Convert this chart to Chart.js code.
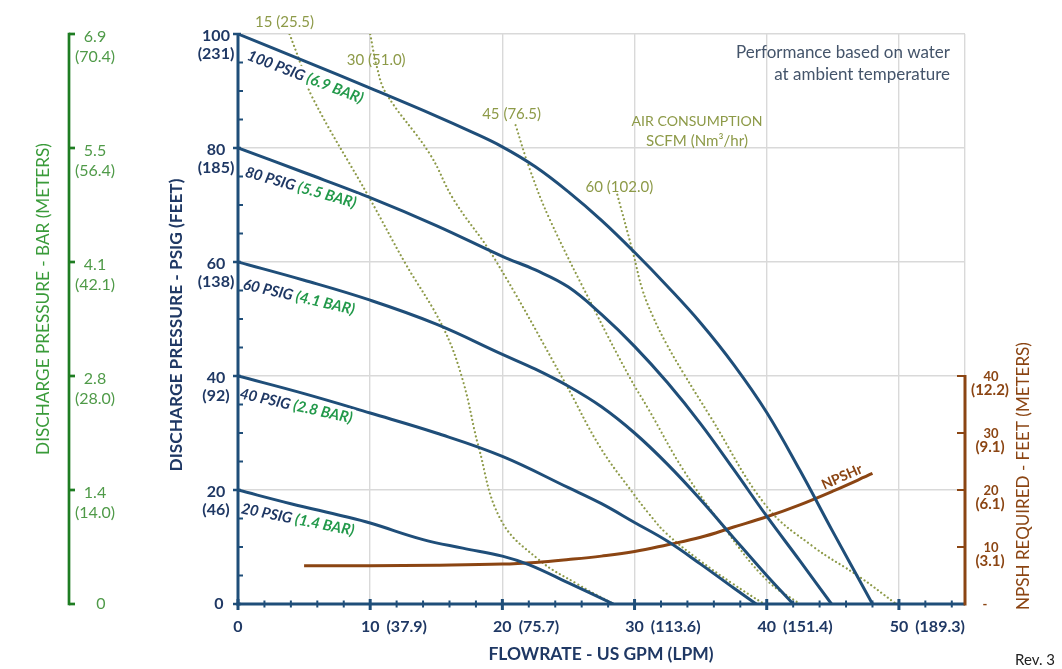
<!DOCTYPE html>
<html>
<head>
<meta charset="utf-8">
<title>Pump performance curve</title>
<script src="https://cdn.jsdelivr.net/npm/chart.js@4.4.1/dist/chart.umd.min.js"></script>
<style>
html,body{margin:0;padding:0;background:#ffffff;overflow:hidden;}
#wrap{width:1062px;height:669px;position:relative;}
canvas{display:block;}
</style>
</head>
<body>
<div id="wrap"><canvas id="chart" width="1062" height="669"></canvas></div>
<script>
// ---------------- DATA (GPM, value) ----------------
// Discharge pressure curves (PSIG) at given air inlet pressure
const psig100 = [[0,100],[5,95.3],[10,90.5],[15,85.6],[17.5,83],[20,80.2],[22.5,76.7],[25,72.3],[27.5,67.3],[30,61.7],[32.5,55.7],[35,49.3],[37.5,42],[40,33.6],[42.5,23.5],[45,12.7],[48,0]];
const psig80  = [[0,80],[5,75.7],[10,71.3],[15,66.4],[20,61],[22.5,58.6],[25,55.6],[27.5,50.8],[30,45.2],[32.5,38.8],[35,31.6],[37.5,23.6],[40,15.4],[42.5,7.6],[44.9,0]];
const psig60  = [[0,60],[5,56.8],[10,53.3],[15,49.1],[20,43.8],[22.5,41.2],[25,38.2],[27.5,34.6],[30,30],[32.5,24.5],[35,18.3],[37.5,11.6],[40,5],[42,0]];
const psig40  = [[0,40],[5,36.9],[10,33.5],[15,30],[20,25.9],[25,20.4],[27.5,17.6],[30,14.3],[32.5,11],[35,7],[37.5,2.8],[39.2,0]];
const psig20  = [[0,20],[4,17.6],[8,15.4],[10,14.2],[14,11.3],[17,9.8],[20,8.4],[22,6.9],[25,3.7],[28.4,0]];
// Air consumption curves (SCFM)
const air15 = [[3.9,100],[4.7,95],[5.6,89],[10,71],[12.6,60],[15.5,48.6],[17,39.3],[18.2,27.6],[19.9,14.7],[22.8,7.7],[25.6,3.6],[28.4,0]];
const air30 = [[10,100],[10.5,94.3],[11.2,89.6],[14.5,79],[16.3,71],[19.3,61],[24.7,39],[27.4,27.5],[29.9,19.4],[31.1,15.8],[32.4,12.4],[34.9,7.7],[37.4,3.6],[39.8,0]];
const air45 = [[21,84],[22.1,76.1],[23.6,67.4],[27.1,51],[29.6,39.9],[31.1,34],[33.7,23.5],[36.9,13],[40,4.2],[42.5,0]];
const air60 = [[28.7,71.8],[29.9,61.5],[30.6,55.1],[31.4,50.4],[32.4,45.7],[33.7,40.5],[35.7,33],[40,17.1],[43.5,10.1],[47,4.8],[49.8,0]];
// NPSH required (feet)
const npshr = [[5,6.7],[10,6.7],[15,6.8],[20,7],[22.5,7.3],[25,7.8],[27.5,8.4],[30,9.2],[32.5,10.4],[35,11.7],[37.5,13.5],[40,15.3],[42.5,17.4],[45,19.8],[48,22.9]];

// ---------------- TICKS & LABELS ----------------
const flowTicks = [0,10,20,30,40,50];
const flowGpm   = ['0','10','20','30','40','50'];
const flowLpm   = ['','(37.9)','(75.7)','(113.6)','(151.4)','(189.3)'];
const psiTicks  = [0,20,40,60,80,100];
const psiLabels = ['0','20','40','60','80','100'];
const feetLabels= ['','(46)','(92)','(138)','(185)','(231)'];
const barLabels = ['0','1.4','2.8','4.1','5.5','6.9'];
const meterLabels=['','(14.0)','(28.0)','(42.1)','(56.4)','(70.4)'];
const npshTicks = [0,10,20,30,40];
const npshFeet  = ['-','10','20','30','40'];
const npshMeters= ['','(3.1)','(6.1)','(9.1)','(12.2)'];
const pressureLabels = [['100 PSIG','(6.9 BAR)'],['80 PSIG','(5.5 BAR)'],['60 PSIG','(4.1 BAR)'],['40 PSIG','(2.8 BAR)'],['20 PSIG','(1.4 BAR)']];
const airLabels = ['15 (25.5)','30 (51.0)','45 (76.5)','60 (102.0)'];

// ---------------- STYLE ----------------
const FONT = 'Lato, "Open Sans", "Liberation Sans", sans-serif';
const NAVY = '#1f3864';
const CURVE = '#1f4e79';
const GREEN_LBL = '#22994a';
const GREEN_AX = '#1e7d22';
const GREEN_TXT = '#4f9a48';
const GREEN_TITLE = '#3a9b3a';
const BROWN = '#8b4513';
const OLIVE = '#8d9a48';
const SLATE = '#44546a';

function pts(arr){ return arr.map(p => ({x:p[0], y:p[1]})); }
function line(arr, color, width, dotted, axis){
  return {
    data: pts(arr), borderColor: color, borderWidth: width,
    borderDash: dotted ? [0.01, 4.2] : [],
    borderCapStyle: dotted ? 'round' : 'butt',
    borderJoinStyle: 'round',
    pointRadius: 0, pointHoverRadius: 0, fill: false,
    tension: 0.4,
    yAxisID: axis || 'y'
  };
}

function fitFont(ctx, text, style, target){
  ctx.font = style + ' 20px ' + FONT;
  const w = ctx.measureText(text).width;
  return style + ' ' + (20 * target / w).toFixed(2) + 'px ' + FONT;
}

const decor = {
  id: 'decor',
  beforeDraw(chart){
    const c = chart.ctx; c.save(); c.fillStyle = '#fff'; c.fillRect(0,0,chart.width,chart.height); c.restore();
  },
  afterDatasetsDraw(chart){
    const ctx = chart.ctx;
    const xs = chart.scales.x, ys = chart.scales.y, yn = chart.scales.yN;
    const X = v => xs.getPixelForValue(v), Y = v => ys.getPixelForValue(v), YN = v => yn.getPixelForValue(v);
    const x0 = X(0), xr = X(55), yb = Y(0), yt = Y(100);
    ctx.save();

    // ---- pressure curve labels ----
    const curves = [psig100, psig80, psig60, psig40, psig20];
    const lblOff = [[10,21,21],[7.5,23.8,16],[5.3,22.2,13],[2,17.5,12.5],[3.5,18.4,11.3]];
    ctx.textBaseline = 'middle'; ctx.textAlign = 'left';
    ctx.font = 'italic bold 15px ' + FONT;
    curves.forEach((c, i) => {
      const [dx, dy, deg] = lblOff[i];
      const px = X(c[0][0]) + dx, py = Y(c[0][1]) + dy;
      const t1 = pressureLabels[i][0] + ' ', t2 = pressureLabels[i][1];
      ctx.save();
      ctx.translate(px, py); ctx.rotate(deg * Math.PI / 180);
      const w1 = ctx.measureText(t1).width, w2 = ctx.measureText(t2).width;
      ctx.fillStyle = '#fff'; ctx.fillRect(-2, -9, w1 + w2 + 4, 18);
      ctx.fillStyle = NAVY; ctx.fillText(t1, 0, 0);
      ctx.fillStyle = GREEN_LBL; ctx.fillText(t2, w1, 0);
      ctx.restore();
    });

    // ---- air consumption labels ----
    const airs = [air15, air30, air45, air60];
    const airOff = [[-5,-12],[6,26],[-4,-11],[2,-8]];
    ctx.textAlign = 'center'; ctx.fillStyle = OLIVE;
    ctx.font = '15px ' + FONT;
    airs.forEach((a, i) => {
      ctx.fillText(airLabels[i], X(a[0][0]) + airOff[i][0], Y(a[0][1]) + airOff[i][1]);
    });
    ctx.font = fitFont(ctx, 'AIR CONSUMPTION', '', 131);
    ctx.fillText('AIR CONSUMPTION', 697, 121);
    ctx.font = fitFont(ctx, 'SCFM (Nm³/hr)', '', 102);
    ctx.fillText('SCFM (Nm³/hr)', 697, 141);

    // ---- performance note ----
    ctx.textAlign = 'right'; ctx.fillStyle = SLATE;
    ctx.font = fitFont(ctx, 'Performance based on water', '', 214);
    ctx.fillText('Performance based on water', 950, 53);
    ctx.fillText('at ambient temperature', 950, 75);

    // ---- NPSHr label ----
    ctx.save();
    ctx.translate(X(45.7), YN(22.3)); ctx.rotate(-24 * Math.PI / 180);
    ctx.textAlign = 'center'; ctx.fillStyle = BROWN; ctx.font = 'bold 14px ' + FONT;
    ctx.fillText('NPSHr', 0, 0);
    ctx.restore();

    // ---- navy axes ----
    ctx.strokeStyle = CURVE; ctx.lineCap = 'butt';
    ctx.lineWidth = 3;
    ctx.beginPath(); ctx.moveTo(x0, yt - 1); ctx.lineTo(x0, yb + 1.5); ctx.stroke();
    ctx.beginPath(); ctx.moveTo(x0 - 1.5, yb); ctx.lineTo(xr, yb); ctx.stroke();
    for (let v = 0; v <= 100; v += 5) {
      const py = Y(v);
      if (v % 20 === 0) { ctx.lineWidth = 2.5; ctx.beginPath(); ctx.moveTo(x0 - 5, py); ctx.lineTo(x0 + 3, py); ctx.stroke(); }
      else { ctx.lineWidth = 2; ctx.beginPath(); ctx.moveTo(x0, py); ctx.lineTo(x0 + 5, py); ctx.stroke(); }
    }
    for (let v = 0; v <= 54; v += 2) {
      const px = X(v);
      if (v % 10 === 0) { ctx.lineWidth = 3; ctx.beginPath(); ctx.moveTo(px, yb - 5); ctx.lineTo(px, yb + 6); ctx.stroke(); }
      else { ctx.lineWidth = 2; ctx.beginPath(); ctx.moveTo(px, yb - 3.5); ctx.lineTo(px, yb + 3.5); ctx.stroke(); }
    }

    // ---- psi tick labels ----
    ctx.textAlign = 'center'; ctx.textBaseline = 'middle'; ctx.fillStyle = NAVY;
    ctx.font = 'bold 16px ' + FONT;
    psiTicks.forEach((v, i) => {
      const py = Y(v);
      if (feetLabels[i]) {
        ctx.fillText(psiLabels[i], 216, py + 2);
        ctx.fillText(feetLabels[i], 216, py + 20);
      } else {
        ctx.fillText(psiLabels[i], 219, py);
      }
    });

    // ---- x tick labels ----
    flowTicks.forEach((v, i) => {
      const px = X(v);
      ctx.textAlign = 'center';
      ctx.fillText(flowGpm[i], px, 627);
      if (flowLpm[i]) {
        const w = ctx.measureText(flowGpm[i]).width;
        ctx.textAlign = 'left';
        ctx.fillText(flowLpm[i], px + w / 2 + 7, 627);
      }
    });

    // ---- green BAR axis ----
    const xg = 69;
    ctx.strokeStyle = GREEN_AX; ctx.lineWidth = 2.7;
    ctx.beginPath(); ctx.moveTo(xg, yt - 1.3); ctx.lineTo(xg, yb + 1.3); ctx.stroke();
    psiTicks.forEach(v => { ctx.beginPath(); ctx.moveTo(xg, Y(v)); ctx.lineTo(xg + 6, Y(v)); ctx.stroke(); });
    ctx.fillStyle = GREEN_TXT; ctx.font = '16px ' + FONT; ctx.textAlign = 'center';
    psiTicks.forEach((v, i) => {
      const py = Y(v);
      if (meterLabels[i]) {
        ctx.fillText(barLabels[i], 95, py + 2.5);
        ctx.fillText(meterLabels[i], 95, py + 23);
      } else {
        ctx.fillText(barLabels[i], 101, py);
      }
    });

    // ---- NPSH axis (right) ----
    ctx.strokeStyle = BROWN; ctx.lineWidth = 3;
    ctx.beginPath(); ctx.moveTo(xr, YN(40) - 1); ctx.lineTo(xr, yb + 1.5); ctx.stroke();
    ctx.lineWidth = 2;
    npshTicks.forEach(v => { if (v > 0) { ctx.beginPath(); ctx.moveTo(xr - 8, YN(v)); ctx.lineTo(xr, YN(v)); ctx.stroke(); } });
    ctx.fillStyle = BROWN; ctx.textAlign = 'center';
    npshTicks.forEach((v, i) => {
      const py = YN(v);
      ctx.font = 'bold 13px ' + FONT;
      if (npshMeters[i]) {
        ctx.fillText(npshFeet[i], 991, py + 1);
        ctx.font = 'bold 15px ' + FONT;
        ctx.fillText(npshMeters[i], 990, py + 14.5);
      } else {
        ctx.fillText(npshFeet[i], 985, py + 1);
      }
    });

    // ---- axis titles ----
    const vtitle = (text, cx, cy, style, color, len) => {
      ctx.save(); ctx.translate(cx, cy); ctx.rotate(-Math.PI / 2);
      ctx.font = fitFont(ctx, text, style, len); ctx.fillStyle = color;
      ctx.textAlign = 'center'; ctx.textBaseline = 'middle';
      ctx.fillText(text, 0, 0); ctx.restore();
    };
    vtitle('DISCHARGE PRESSURE - BAR (METERS)', 43, 299, '', GREEN_TITLE, 312);
    vtitle('DISCHARGE PRESSURE - PSIG (FEET)', 176, 325, 'bold', NAVY, 293);
    vtitle('NPSH REQUIRED - FEET (METERS)', 1024, 476, '', BROWN, 268);

    ctx.font = fitFont(ctx, 'FLOWRATE - US GPM (LPM)', 'bold', 225);
    ctx.fillStyle = NAVY; ctx.textAlign = 'center'; ctx.textBaseline = 'middle';
    ctx.fillText('FLOWRATE - US GPM (LPM)', 601, 654);

    ctx.font = '15px ' + FONT; ctx.fillStyle = '#222'; ctx.textAlign = 'center';
    ctx.fillText('Rev. 3', 1035, 660);

    ctx.restore();
  }
};

const gridOpts = { color: '#d9d9d9', lineWidth: 1.4, drawTicks: false };

new Chart(document.getElementById('chart'), {
  type: 'line',
  data: {
    datasets: [
      line(psig100, CURVE, 3),
      line(psig80, CURVE, 3),
      line(psig60, CURVE, 3),
      line(psig40, CURVE, 3),
      line(psig20, CURVE, 3),
      line(npshr, BROWN, 3, false, 'yN'),
      line(air15, OLIVE, 2.2, true),
      line(air30, OLIVE, 2.2, true),
      line(air45, OLIVE, 2.2, true),
      line(air60, OLIVE, 2.2, true)
    ]
  },
  options: {
    responsive: false,
    animation: false,
    events: [],
    layout: { padding: { left: 238, top: 34, right: 97, bottom: 65 } },
    plugins: { legend: { display: false }, tooltip: { enabled: false } },
    scales: {
      x: {
        type: 'linear', min: 0, max: 55,
        afterBuildTicks: s => { s.ticks = flowTicks.concat([55]).map(v => ({ value: v })); },
        ticks: { display: false }, grid: gridOpts, border: { display: false }
      },
      y: {
        type: 'linear', min: 0, max: 100,
        afterBuildTicks: s => { s.ticks = psiTicks.map(v => ({ value: v })); },
        ticks: { display: false }, grid: gridOpts, border: { display: false }
      },
      yN: { type: 'linear', min: 0, max: 100, display: false }
    }
  },
  plugins: [decor]
});
</script>
</body>
</html>
